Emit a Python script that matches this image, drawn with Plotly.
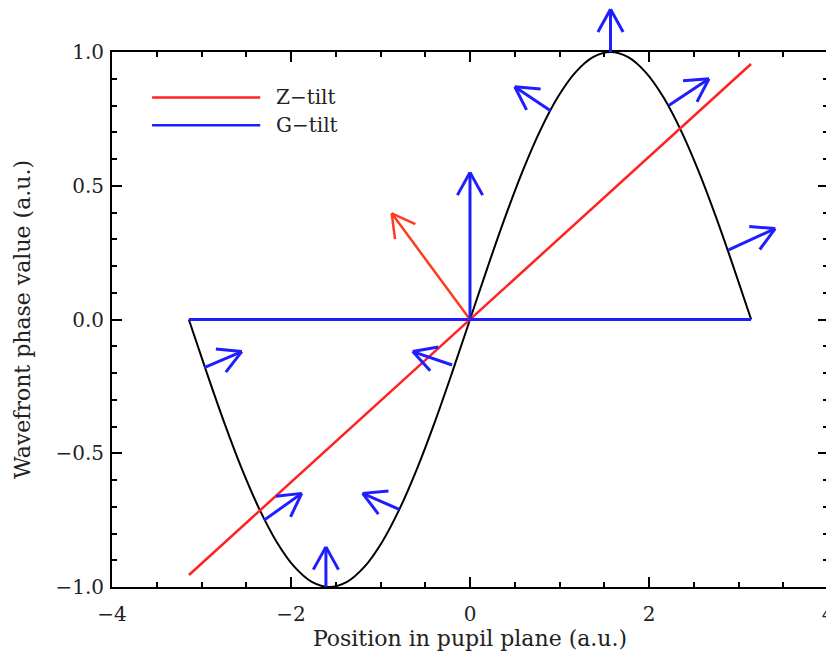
import numpy as np
import plotly.graph_objects as go

# wavefront (black curve)
x_wave = [-3.1416, -2.9452, -2.7489, -2.5525, -2.3562, -2.1598, -1.9635, -1.7671, -1.5708,
          -1.3744, -1.1781, -0.9817, -0.7854, -0.5890, -0.3927, -0.1963, 0.0000,
          0.1963, 0.3927, 0.5890, 0.7854, 0.9817, 1.1781, 1.3744, 1.5708,
          1.7671, 1.9635, 2.1598, 2.3562, 2.5525, 2.7489, 2.9452, 3.1416]
y_wave = [0.0000, -0.1951, -0.3827, -0.5556, -0.7071, -0.8315, -0.9239, -0.9808, -1.0000,
          -0.9808, -0.9239, -0.8315, -0.7071, -0.5556, -0.3827, -0.1951, 0.0000,
          0.1951, 0.3827, 0.5556, 0.7071, 0.8315, 0.9239, 0.9808, 1.0000,
          0.9808, 0.9239, 0.8315, 0.7071, 0.5556, 0.3827, 0.1951, 0.0000]

# tilt lines
z_tilt_x = [-3.14, 3.14]
z_tilt_y = [-0.955, 0.955]
g_tilt_x = [-3.14, 3.14]
g_tilt_y = [0.0, 0.0]
legend_names = ["Z\u2212tilt", "G\u2212tilt"]

# blue arrows (local gradients): base -> tip
blue_x0 = [1.57, 0.90, 2.22, 2.89, 0.00, -2.97, -0.20, -2.30, -0.79, -1.61]
blue_y0 = [1.00, 0.78, 0.80, 0.26, 0.00, -0.18, -0.17, -0.75, -0.71, -1.00]
blue_x1 = [1.57, 0.50, 2.67, 3.41, 0.00, -2.55, -0.64, -1.88, -1.20, -1.61]
blue_y1 = [1.16, 0.87, 0.90, 0.34, 0.55, -0.12, -0.12, -0.65, -0.65, -0.85]

# red arrow (Z-tilt normal)
red_x0, red_y0 = [0.0], [0.0]
red_x1, red_y1 = [-0.875], [0.397]

BLUE = "#1e1eff"
RED = "#ff2222"
RED_ARROW = "#ff3a1e"
FONT = "DejaVu Serif"
TXT = "#222"

# page layout (px); the page body adds 8px on the left/top
W, H = 834, 655
ML, MR, MT, MB = 104, 14, 0, 76
PLOT_TOP = 44
XR = [-4, 4]
YR = [-1, 1]
plot_w = W - ML - MR
plot_h_all = H - MT - MB
plot_h = plot_h_all - (PLOT_TOP - MT)
sx = plot_w / (XR[1] - XR[0])
sy = plot_h / (YR[1] - YR[0])
y2_top = YR[0] + plot_h_all / sy


def arrow_path(x0, y0, x1, y1, head=26, half=np.radians(29)):
    xs, ys = [], []
    for a, b, c, d in zip(x0, y0, x1, y1):
        dx, dy = (c - a) * sx, (d - b) * sy
        n = np.hypot(dx, dy)
        bx, by = -dx / n, -dy / n
        xs += [a, c, None]
        ys += [b, d, None]
        for s in (1, -1):
            rx = bx * np.cos(s * half) - by * np.sin(s * half)
            ry = bx * np.sin(s * half) + by * np.cos(s * half)
            xs += [c + head * rx / sx, c, None]
            ys += [d + head * ry / sy, d, None]
    return xs, ys


fig = go.Figure()
fig.add_trace(go.Scatter(x=x_wave, y=y_wave, mode="lines", line_shape="spline",
                         line=dict(color="black", width=2), showlegend=False))
fig.add_trace(go.Scatter(x=z_tilt_x, y=z_tilt_y, mode="lines", name=legend_names[0],
                         line=dict(color=RED, width=2.5), showlegend=False))
fig.add_trace(go.Scatter(x=g_tilt_x, y=g_tilt_y, mode="lines", name=legend_names[1],
                         line=dict(color=BLUE, width=3), showlegend=False))

# arrows live on a taller twin subplot so the top one can poke out of the frame
ax, ay = arrow_path(red_x0, red_y0, red_x1, red_y1)
fig.add_trace(go.Scatter(x=ax, y=ay, mode="lines", xaxis="x2", yaxis="y2",
                         line=dict(color=RED_ARROW, width=2.5), showlegend=False))
ax, ay = arrow_path(blue_x0, blue_y0, blue_x1, blue_y1)
fig.add_trace(go.Scatter(x=ax, y=ay, mode="lines", xaxis="x2", yaxis="y2",
                         line=dict(color=BLUE, width=3), showlegend=False))

# legend drawn by hand (long key lines like the original)
for i, (name, col) in enumerate(zip(legend_names, [RED, BLUE])):
    yy = 0.915 - i * 0.052
    fig.add_shape(type="line", xref="x domain", yref="y domain",
                  x0=0.056, x1=0.207, y0=yy, y1=yy,
                  line=dict(color=col, width=2.5))
    fig.add_annotation(xref="x domain", yref="y domain", x=0.226, y=yy,
                       text=name, showarrow=False, xanchor="left", yanchor="middle",
                       font=dict(family=FONT, size=20, color=TXT))

axis_common = dict(showline=True, linecolor="black", linewidth=2, mirror="allticks",
                   ticks="inside", ticklen=10, tickwidth=2, tickcolor="black",
                   showgrid=False, zeroline=False, automargin=False,
                   tickfont=dict(family=FONT, size=20, color=TXT))

fig.update_layout(
    width=W, height=H,
    margin=dict(l=ML, r=MR, t=MT, b=MB),
    paper_bgcolor="white", plot_bgcolor="rgba(0,0,0,0)",
    xaxis=dict(range=XR, dtick=2, tick0=0, anchor="y", ticklabelstandoff=8,
               minor=dict(ticks="inside", ticklen=5, tickwidth=2, dtick=0.5,
                          tickcolor="black"),
               title=dict(text="Position in pupil plane (a.u.)", standoff=6,
                          font=dict(family=FONT, size=22, color=TXT)),
               **axis_common),
    yaxis=dict(range=YR, dtick=0.5, tick0=0, tickformat=".1f", anchor="x",
               ticklabelstandoff=2, domain=[0, plot_h / plot_h_all],
               minor=dict(ticks="inside", ticklen=5, tickwidth=2, dtick=0.1,
                          tickcolor="black"),
               title=dict(text="Wavefront phase value (a.u.)", standoff=19,
                          font=dict(family=FONT, size=22, color=TXT)),
               **axis_common),
    xaxis2=dict(range=XR, domain=[0, 1], anchor="y2", visible=False,
                showgrid=False, zeroline=False),
    yaxis2=dict(range=[YR[0], y2_top], domain=[0, 1], anchor="x2",
                visible=False, showgrid=False, zeroline=False),
)

fig.write_html("out.html")
